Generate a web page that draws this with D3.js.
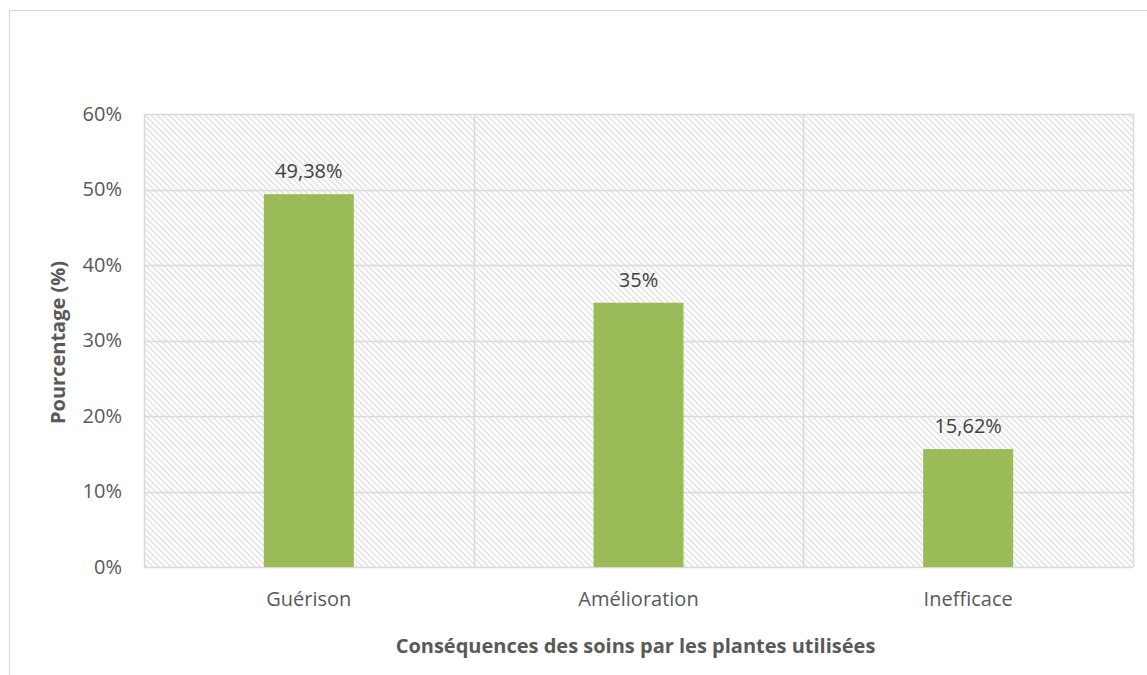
<!DOCTYPE html>
<html><head><meta charset="utf-8">
<script src="https://cdn.jsdelivr.net/npm/d3@7"></script>
<style>body{margin:0;background:#fff}svg{display:block}</style>
</head><body>
<script>
const categories = ["Guérison", "Amélioration", "Inefficace"];
const values = [49.38, 35, 15.62];
const valueLabels = ["49,38%", "35%", "15,62%"];
const yTicks = [0, 10, 20, 30, 40, 50, 60];
const xTitle = "Conséquences des soins par les plantes utilisées";
const yTitle = "Pourcentage (%)";

const W = 1147, H = 675;
const m = {left:144, top:114, right:1133, bottom:567};
const font = "'Open Sans', sans-serif";
const fs = 20;
const svg = d3.select("body").append("svg").attr("width", W).attr("height", H);

svg.append("rect").attr("x", 9.5).attr("y", 10.5).attr("width", 1160).attr("height", 700)
  .attr("fill", "#fff").attr("stroke", "#d9d9d9").attr("stroke-width", 1);

const defs = svg.append("defs");
const pat = defs.append("pattern").attr("id", "hatch").attr("patternUnits", "userSpaceOnUse")
  .attr("width", 6).attr("height", 6);
pat.append("rect").attr("width", 6).attr("height", 6).attr("fill", "#fff");
pat.append("path").attr("d", "M-1,-1 L7,7 M-1,5 L1,7 M5,-1 L7,1")
  .attr("stroke", "#e0e0e0").attr("stroke-width", 1.3);

const x = d3.scaleBand().domain(categories).range([m.left, m.right])
  .paddingInner(0.727).paddingOuter(0.3635);
const y = d3.scaleLinear().domain([0, 60]).range([m.bottom, m.top]);

svg.append("rect").attr("x", m.left).attr("y", m.top)
  .attr("width", m.right - m.left).attr("height", m.bottom - m.top).attr("fill", "url(#hatch)");

svg.append("g").selectAll("line").data(yTicks).join("line")
  .attr("x1", m.left).attr("x2", m.right)
  .attr("y1", d => Math.round(y(d)) + 0.5).attr("y2", d => Math.round(y(d)) + 0.5)
  .attr("stroke", "#d9d9d9").attr("stroke-width", 1.5);
const step = x.step();
const vx = d3.range(categories.length + 1).map(i => m.left + i * step);
svg.append("g").selectAll("line").data(vx).join("line")
  .attr("x1", d => Math.round(d) + 0.5).attr("x2", d => Math.round(d) + 0.5)
  .attr("y1", m.top).attr("y2", m.bottom)
  .attr("stroke", "#d9d9d9").attr("stroke-width", 1.5);

svg.append("g").selectAll("rect").data(values).join("rect")
  .attr("x", (d, i) => x(categories[i])).attr("width", x.bandwidth())
  .attr("y", d => y(d)).attr("height", d => m.bottom - y(d))
  .attr("fill", "#9bbb59");

svg.append("g").selectAll("text").data(values).join("text")
  .attr("x", (d, i) => x(categories[i]) + x.bandwidth() / 2)
  .attr("y", d => y(d) - 16)
  .attr("text-anchor", "middle").attr("font-family", font).attr("font-size", fs)
  .attr("fill", "#404040").text((d, i) => valueLabels[i]);

const yAxis = d3.axisLeft(y).tickValues(yTicks).tickFormat(d => d + "%").tickSize(0).tickPadding(22);
const gy = svg.append("g").attr("transform", `translate(${m.left},0)`).call(yAxis);
gy.select(".domain").remove();
gy.selectAll("text").attr("font-family", font).attr("font-size", fs).attr("fill", "#595959");

const xAxis = d3.axisBottom(x).tickSize(0).tickPadding(25);
const gx = svg.append("g").attr("transform", `translate(0,${m.bottom})`).call(xAxis);
gx.select(".domain").remove();
gx.selectAll("text").attr("font-family", font).attr("font-size", fs).attr("fill", "#595959");

svg.append("text").attr("x", (m.left + m.right) / 2 - 3).attr("y", 653)
  .attr("text-anchor", "middle").attr("font-family", font).attr("font-size", 20)
  .attr("font-weight", "bold").attr("fill", "#595959").text(xTitle);
svg.append("text").attr("transform", `translate(65,${(m.top + m.bottom) / 2 + 2}) rotate(-90)`)
  .attr("text-anchor", "middle").attr("font-family", font).attr("font-size", 20)
  .attr("font-weight", "bold").attr("fill", "#595959").text(yTitle);
</script>
</body></html>
